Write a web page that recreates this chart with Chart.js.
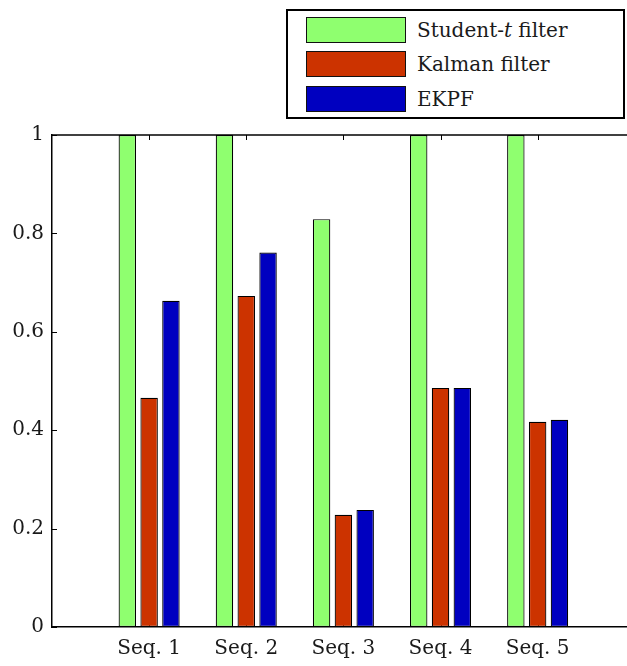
<!DOCTYPE html>
<html>
<head>
<meta charset="utf-8">
<script src="https://cdn.jsdelivr.net/npm/chart.js@4/dist/chart.umd.min.js"></script>
<style>
html,body{margin:0;padding:0;background:#fff;}
#wrap{position:relative;width:627px;height:666px;overflow:hidden;}
#chart{position:absolute;left:0;top:0;}
#legend{position:absolute;left:286px;top:9px;width:335px;height:106px;border:2px solid #000;background:#fff;font-family:"DejaVu Serif",serif;font-size:20px;color:#1a1a1a;}
#legend i{font-family:"DejaVu Serif",serif;}
.row{position:absolute;left:18px;height:26px;display:flex;align-items:center;white-space:nowrap;}
.sw{width:98px;height:24px;border:1px solid #111;margin-right:11px;flex:none;}
</style>
</head>
<body>
<div id="wrap">
  <canvas id="chart" width="627" height="666"></canvas>
  <div id="legend"></div>
</div>
<script>
// ---- data ----
const categories = ["Seq. 1", "Seq. 2", "Seq. 3", "Seq. 4", "Seq. 5"];
const seriesNames = ["Student-t filter", "Kalman filter", "EKPF"];
const studentT = [1, 1, 0.829, 1, 1];
const kalman   = [0.466, 0.673, 0.228, 0.486, 0.417];
const ekpf     = [0.663, 0.761, 0.238, 0.486, 0.421];
const yTicks = [0, 0.2, 0.4, 0.6, 0.8, 1];
const seriesColors = ["#8FFF6F", "#CC3300", "#0000C0"];

const seriesValues = [studentT, kalman, ekpf];
const FONT = "DejaVu Serif";

const datasets = seriesValues.map((vals, k) => ({
  label: seriesNames[k],
  data: vals.map((v, i) => ({ x: i + 1, y: v })),
  backgroundColor: seriesColors[k],
  borderColor: "#000",
  borderWidth: 1.2,
  borderSkipped: false,
  categoryPercentage: 0.6735,
  barPercentage: 0.80
}));

// legend (HTML, real text)
const legendEl = document.getElementById("legend");
seriesNames.forEach((name, k) => {
  const row = document.createElement("div");
  row.className = "row";
  row.style.top = (5.5 + k * 34.7) + "px";
  const sw = document.createElement("div");
  sw.className = "sw";
  sw.style.background = seriesColors[k];
  const txt = document.createElement("span");
  txt.innerHTML = name.replace(/-t\b/, "-<i>t</i>");
  row.appendChild(sw);
  row.appendChild(txt);
  legendEl.appendChild(row);
});

const axisDecor = {
  id: "axisDecor",
  beforeDatasetsDraw(chart) {
    const { ctx, chartArea: a, scales: { x, y } } = chart;
    ctx.save();
    ctx.strokeStyle = "#000";
    ctx.lineWidth = 1;
    ctx.beginPath();
    y.ticks.forEach(t => {
      const py = Math.round(y.getPixelForValue(t.value)) + 0.5;
      ctx.moveTo(a.left, py); ctx.lineTo(a.left + 5, py);
    });
    x.ticks.forEach(t => {
      const px = Math.round(x.getPixelForValue(t.value)) + 0.5;
      ctx.moveTo(px, a.bottom); ctx.lineTo(px, a.bottom - 5);
      ctx.moveTo(px, a.top); ctx.lineTo(px, a.top + 5);
    });
    ctx.stroke();
    ctx.restore();
  },
  afterDatasetsDraw(chart) {
    const { ctx, chartArea: a } = chart;
    ctx.save();
    ctx.strokeStyle = "#000";
    ctx.lineWidth = 1.5;
    ctx.beginPath();
    ctx.moveTo(a.left, a.top); ctx.lineTo(a.right, a.top);
    ctx.stroke();
    ctx.restore();
  }
};

new Chart(document.getElementById("chart"), {
  type: "bar",
  data: { datasets },
  options: {
    responsive: false,
    animation: false,
    devicePixelRatio: 1,
    layout: { padding: { top: 135, right: 0, left: 0, bottom: 0 } },
    plugins: { legend: { display: false }, tooltip: { enabled: false } },
    scales: {
      x: {
        type: "linear",
        min: 0,
        max: 5.92,
        offset: false,
        afterBuildTicks: s => { s.ticks = categories.map((c, i) => ({ value: i + 1 })); },
        afterFit: s => { s.height = 39; },
        grid: { display: false, drawTicks: false },
        border: { display: true, color: "#000", width: 1.5 },
        ticks: {
          callback: v => categories[v - 1],
          font: { family: FONT, size: 20 },
          color: "#1a1a1a",
          padding: 10,
          autoSkip: false,
          maxRotation: 0
        }
      },
      y: {
        min: 0,
        max: 1,
        afterBuildTicks: s => { s.ticks = yTicks.map(v => ({ value: v })); },
        afterFit: s => { s.width = 52; },
        grid: { display: false, drawTicks: false },
        border: { display: true, color: "#000", width: 1.5 },
        ticks: {
          callback: v => String(v),
          font: { family: FONT, size: 20 },
          color: "#1a1a1a",
          padding: 8
        }
      }
    }
  },
  plugins: [axisDecor]
});
</script>
</body>
</html>
